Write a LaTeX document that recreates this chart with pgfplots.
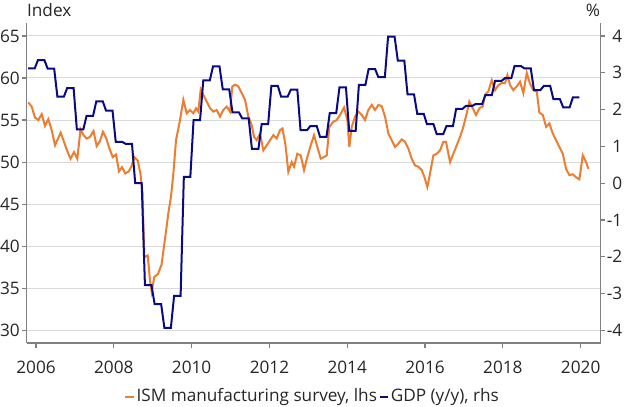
\documentclass[border=0pt]{standalone}
\usepackage{fontspec}
\setmainfont{Open Sans}
\usepackage{pgfplots}
\pgfplotsset{compat=1.18}
\definecolor{ismorange}{RGB}{237,125,49}
\definecolor{gdpblue}{RGB}{10,10,130}
\definecolor{axgray}{RGB}{128,128,128}
\definecolor{gridgray}{RGB}{217,217,217}
\definecolor{txt}{RGB}{38,38,38}

\pgfplotstableread{
t L
2005.802 57.1
2005.889 56.6
2005.974 55.3
2006.059 55.0
2006.147 55.7
2006.231 54.3
2006.316 55.1
2006.404 53.8
2006.488 52.0
2006.566 52.8
2006.635 53.5
2006.720 52.4
2006.797 51.4
2006.887 50.4
2006.977 51.2
2007.062 50.4
2007.144 53.9
2007.221 53.2
2007.303 52.8
2007.388 53.0
2007.478 53.7
2007.560 51.9
2007.645 52.5
2007.722 53.6
2007.807 52.8
2007.889 51.6
2007.972 50.6
2008.057 50.9
2008.134 48.9
2008.211 49.4
2008.296 48.65
2008.383 48.9
2008.455 49.5
2008.527 50.6
2008.614 50.2
2008.686 48.6
2008.738 46.3
2008.784 38.7
2008.871 38.9
2008.931 35.9
2008.974 34.6
2009.041 36.35
2009.136 36.7
2009.226 37.8
2009.334 41.5
2009.401 43.9
2009.470 45.9
2009.530 48.6
2009.599 52.6
2009.702 55.0
2009.787 57.4
2009.874 55.8
2009.959 56.2
2010.044 55.8
2010.113 56.4
2010.172 56.0
2010.234 58.65
2010.301 58.0
2010.388 57.2
2010.473 56.4
2010.558 56.0
2010.645 56.2
2010.730 55.4
2010.815 56.2
2010.902 56.6
2010.987 56.0
2011.046 59.0
2011.116 59.2
2011.201 59.0
2011.288 58.2
2011.373 57.4
2011.458 55.4
2011.545 54.4
2011.604 53.0
2011.674 52.6
2011.758 53.4
2011.843 51.4
2011.931 52.0
2012.015 52.6
2012.100 53.2
2012.188 52.8
2012.272 53.8
2012.337 54.0
2012.414 52.0
2012.486 48.85
2012.573 50.0
2012.632 49.45
2012.717 51.0
2012.805 50.8
2012.889 49.05
2012.974 50.6
2013.062 52.0
2013.147 53.2
2013.231 51.8
2013.319 50.4
2013.404 50.6
2013.473 50.8
2013.540 54.2
2013.643 54.8
2013.730 55.0
2013.815 55.6
2013.918 56.5
2014.003 55.0
2014.054 51.8
2014.116 54.2
2014.201 55.4
2014.285 56.0
2014.373 55.6
2014.458 55.0
2014.543 56.2
2014.630 56.8
2014.715 56.2
2014.800 56.8
2014.887 56.65
2014.972 55.4
2015.057 53.4
2015.144 52.6
2015.229 51.8
2015.314 52.2
2015.401 52.7
2015.486 52.4
2015.571 51.6
2015.658 50.4
2015.743 49.6
2015.828 49.45
2015.915 49.05
2015.982 48.25
2016.059 47.05
2016.129 48.65
2016.213 50.8
2016.301 51.0
2016.386 51.4
2016.470 52.4
2016.540 52.4
2016.643 50.0
2016.728 51.0
2016.815 52.0
2016.900 53.0
2016.985 54.2
2017.072 55.8
2017.139 57.2
2017.226 56.4
2017.311 55.6
2017.396 56.4
2017.483 56.6
2017.542 58.0
2017.627 58.4
2017.715 59.75
2017.800 58.55
2017.884 59.15
2017.972 59.4
2018.057 59.4
2018.116 60.35
2018.185 59.15
2018.270 58.55
2018.357 59.0
2018.442 59.55
2018.527 58.2
2018.614 60.6
2018.699 59.3
2018.784 58.55
2018.871 58.4
2018.938 55.9
2019.026 55.6
2019.111 54.2
2019.196 54.6
2019.283 53.4
2019.368 52.6
2019.453 51.8
2019.540 51.0
2019.625 49.2
2019.710 48.45
2019.797 48.55
2019.882 48.2
2019.967 47.95
2020.054 50.8
2020.139 50.0
2020.199 49.2
}\ismdata

\pgfplotstableread{
t r
2005.800 3.12
2005.967 3.12
2006.050 3.34
2006.217 3.34
2006.300 3.11
2006.467 3.11
2006.550 2.35
2006.717 2.35
2006.800 2.58
2006.967 2.58
2007.050 1.46
2007.217 1.46
2007.300 1.83
2007.467 1.83
2007.550 2.22
2007.717 2.22
2007.800 1.97
2007.967 1.97
2008.050 1.12
2008.217 1.12
2008.300 1.07
2008.467 1.07
2008.550 0.00
2008.717 0.00
2008.800 -2.77
2008.967 -2.77
2009.050 -3.29
2009.217 -3.29
2009.300 -3.93
2009.467 -3.93
2009.550 -3.06
2009.717 -3.06
2009.800 0.17
2009.967 0.17
2010.050 1.71
2010.217 1.71
2010.300 2.79
2010.467 2.79
2010.550 3.17
2010.717 3.17
2010.800 2.55
2010.967 2.55
2011.050 1.92
2011.217 1.92
2011.300 1.76
2011.467 1.76
2011.550 0.93
2011.717 0.93
2011.800 1.60
2011.967 1.60
2012.050 2.64
2012.217 2.64
2012.300 2.35
2012.467 2.35
2012.550 2.54
2012.717 2.54
2012.800 1.44
2012.967 1.44
2013.050 1.55
2013.217 1.55
2013.300 1.26
2013.467 1.26
2013.550 1.90
2013.717 1.90
2013.800 2.60
2013.967 2.60
2014.050 1.42
2014.217 1.42
2014.300 2.67
2014.467 2.67
2014.550 3.10
2014.717 3.10
2014.800 2.88
2014.967 2.88
2015.050 3.98
2015.217 3.98
2015.300 3.33
2015.467 3.33
2015.550 2.41
2015.717 2.41
2015.800 1.88
2015.967 1.88
2016.050 1.60
2016.217 1.60
2016.300 1.33
2016.467 1.33
2016.550 1.55
2016.717 1.55
2016.800 2.02
2016.967 2.02
2017.050 2.10
2017.217 2.10
2017.300 2.15
2017.467 2.15
2017.550 2.39
2017.717 2.39
2017.800 2.78
2017.967 2.78
2018.050 2.85
2018.217 2.85
2018.300 3.18
2018.467 3.18
2018.550 3.12
2018.717 3.12
2018.800 2.53
2018.967 2.53
2019.050 2.64
2019.217 2.64
2019.300 2.28
2019.467 2.28
2019.550 2.06
2019.717 2.06
2019.800 2.33
2019.967 2.33
}\gdpdata

\begin{document}
\begin{tikzpicture}[font=\fontsize{8.6pt}{10.3pt}\selectfont]
\useasboundingbox (-13.35pt,-31.5pt) rectangle (298.65pt,171.5pt);
\pgfplotsset{
  base/.style={
    at={(0pt,0pt)}, anchor=south west, scale only axis,
    width=286.9pt, height=159.85pt,
    xmin=2005.761, xmax=2020.51,
    tick align=outside, major tick length=2.25pt,
    minor tick num=0,
    every tick/.style={axgray, line width=0.6pt},
    axis line style={axgray, line width=0.6pt},
    /pgf/number format/assume math mode=true,
    ticklabel style={font=\fontsize{8.6pt}{10.3pt}\selectfont, text=txt},
  },
}
\begin{axis}[base, name=lax,
  axis x line*=bottom, axis y line*=left,
  ymin=28.5, ymax=66.5,
  xtick={2006,2008,...,2020},
  xticklabel style={/pgf/number format/1000 sep={}, anchor=north, inner sep=0pt, yshift=-6.4pt},
  ytick={30,35,...,65},
  yticklabel style={anchor=east, inner sep=0pt, xshift=-1.05pt},
  ymajorgrids, grid style={gridgray, line width=0.5pt},
]
\addplot[ismorange, line width=1pt] table[x=t, y=L] {\ismdata};
\end{axis}
\begin{axis}[base, name=rax,
  axis x line=none, axis y line*=right,
  ymin=-4.343, ymax=4.343,
  ytick={-4,...,4},
  yticklabel style={anchor=east, inner sep=0pt, xshift=8.8pt},
  legend columns=2,
  legend image code/.code={\draw[#1] (0pt,0pt) -- (4.3pt,0pt);},
  legend style={at={(0.498,-0.168)}, anchor=center, draw=none, fill=none,
    inner sep=0pt, nodes={inner sep=0.8pt, text=txt},
    /tikz/every even column/.append style={column sep=0pt}},
]
\addlegendimage{ismorange, line width=1pt}
\addlegendentry{ISM manufacturing survey, lhs}
\addplot[gdpblue, line width=1pt] table[x=t, y=r] {\gdpdata};
\addlegendentry{GDP (y/y), rhs}
\end{axis}
\node[anchor=base west, inner sep=0pt, text=txt] at ([yshift=3.3pt]lax.north west) {Index};
\node[anchor=base east, inner sep=0pt, text=txt] at ([yshift=3.3pt]lax.north east) {\%};
\end{tikzpicture}
\end{document}
